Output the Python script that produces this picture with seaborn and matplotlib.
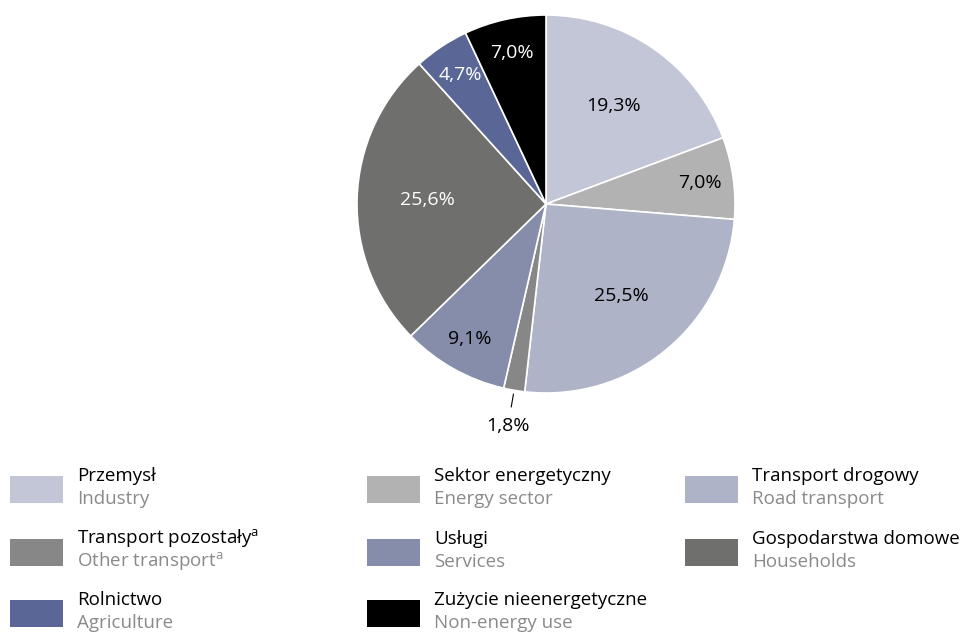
import numpy as np
import matplotlib
matplotlib.use("Agg")
import matplotlib.pyplot as plt
import seaborn as sns
from matplotlib.patches import Rectangle

# --- data ---
labels_pl = ["Przemysł", "Sektor energetyczny", "Transport drogowy",
             "Transport pozostały$^{\\mathrm{a}}$", "Usługi", "Gospodarstwa domowe",
             "Rolnictwo", "Zużycie nieenergetyczne"]
labels_en = ["Industry", "Energy sector", "Road transport",
             "Other transport$^{\\mathrm{a}}$", "Services", "Households",
             "Agriculture", "Non-energy use"]
shares = [19.3, 7.0, 25.5, 1.8, 9.1, 25.6, 4.7, 7.0]
colors = ["#c3c6d6", "#b2b2b2", "#aeb3c8", "#878787",
          "#858dab", "#6f6f6d", "#5a6796", "#000000"]
text_colors = ["black", "black", "black", "black",
               "black", "white", "white", "white"]

sns.set_theme(style="white")
plt.rcParams["font.family"] = ["Open Sans", "DejaVu Sans"]
plt.rcParams["mathtext.fontset"] = "custom"
plt.rcParams["mathtext.rm"] = "Open Sans"

W, H = 967, 635
fig = plt.figure(figsize=(W / 100, H / 100), dpi=100)

# pie: center (546, 204), radius 189 px
cx, cy, r = 546, 204, 189
ax = fig.add_axes([(cx - r) / W, (H - cy - r) / H, 2 * r / W, 2 * r / H])
wedges, _ = ax.pie(shares, colors=colors, startangle=90, counterclock=False,
                   wedgeprops=dict(edgecolor="white", linewidth=1.2))
ax.set_xlim(-1, 1)
ax.set_ylim(-1, 1)
ax.set_aspect("equal")
ax.axis("off")

for w, val, tc in zip(wedges, shares, text_colors):
    ang = np.deg2rad((w.theta1 + w.theta2) / 2)
    txt = f"{val:.1f}%".replace(".", ",")
    if val < 3:
        # small slice: label outside with a short leader line
        ax.plot([1.02 * np.cos(ang), 1.09 * np.cos(ang)],
                [1.02 * np.sin(ang), 1.09 * np.sin(ang)],
                color="black", lw=0.8, clip_on=False)
        d = 1.19
        tc = "black"
    elif val < 15:
        d = 0.82
    else:
        d = 0.63
    ax.text(d * np.cos(ang), d * np.sin(ang), txt, ha="center", va="center",
            fontsize=14, color=tc)

# --- legend ---
col_x = [10, 367, 685]
row_y = [476, 539, 600]
sq_w, sq_h = 53, 27
for i, (pl, en, c) in enumerate(zip(labels_pl, labels_en, colors)):
    row, col = divmod(i, 3)
    x0, y0 = col_x[col], row_y[row]
    fig.patches.append(Rectangle((x0 / W, 1 - (y0 + sq_h) / H), sq_w / W, sq_h / H,
                                 transform=fig.transFigure, facecolor=c,
                                 edgecolor="none"))
    tx = (x0 + 67) / W
    fig.text(tx, 1 - (y0 + 5) / H, pl, fontsize=13.5, color="black",
             ha="left", va="baseline")
    fig.text(tx, 1 - (y0 + 28) / H, en, fontsize=13.5, color="#8a8a8a",
             ha="left", va="baseline")

fig.savefig("out.png", dpi=100, facecolor="white")
